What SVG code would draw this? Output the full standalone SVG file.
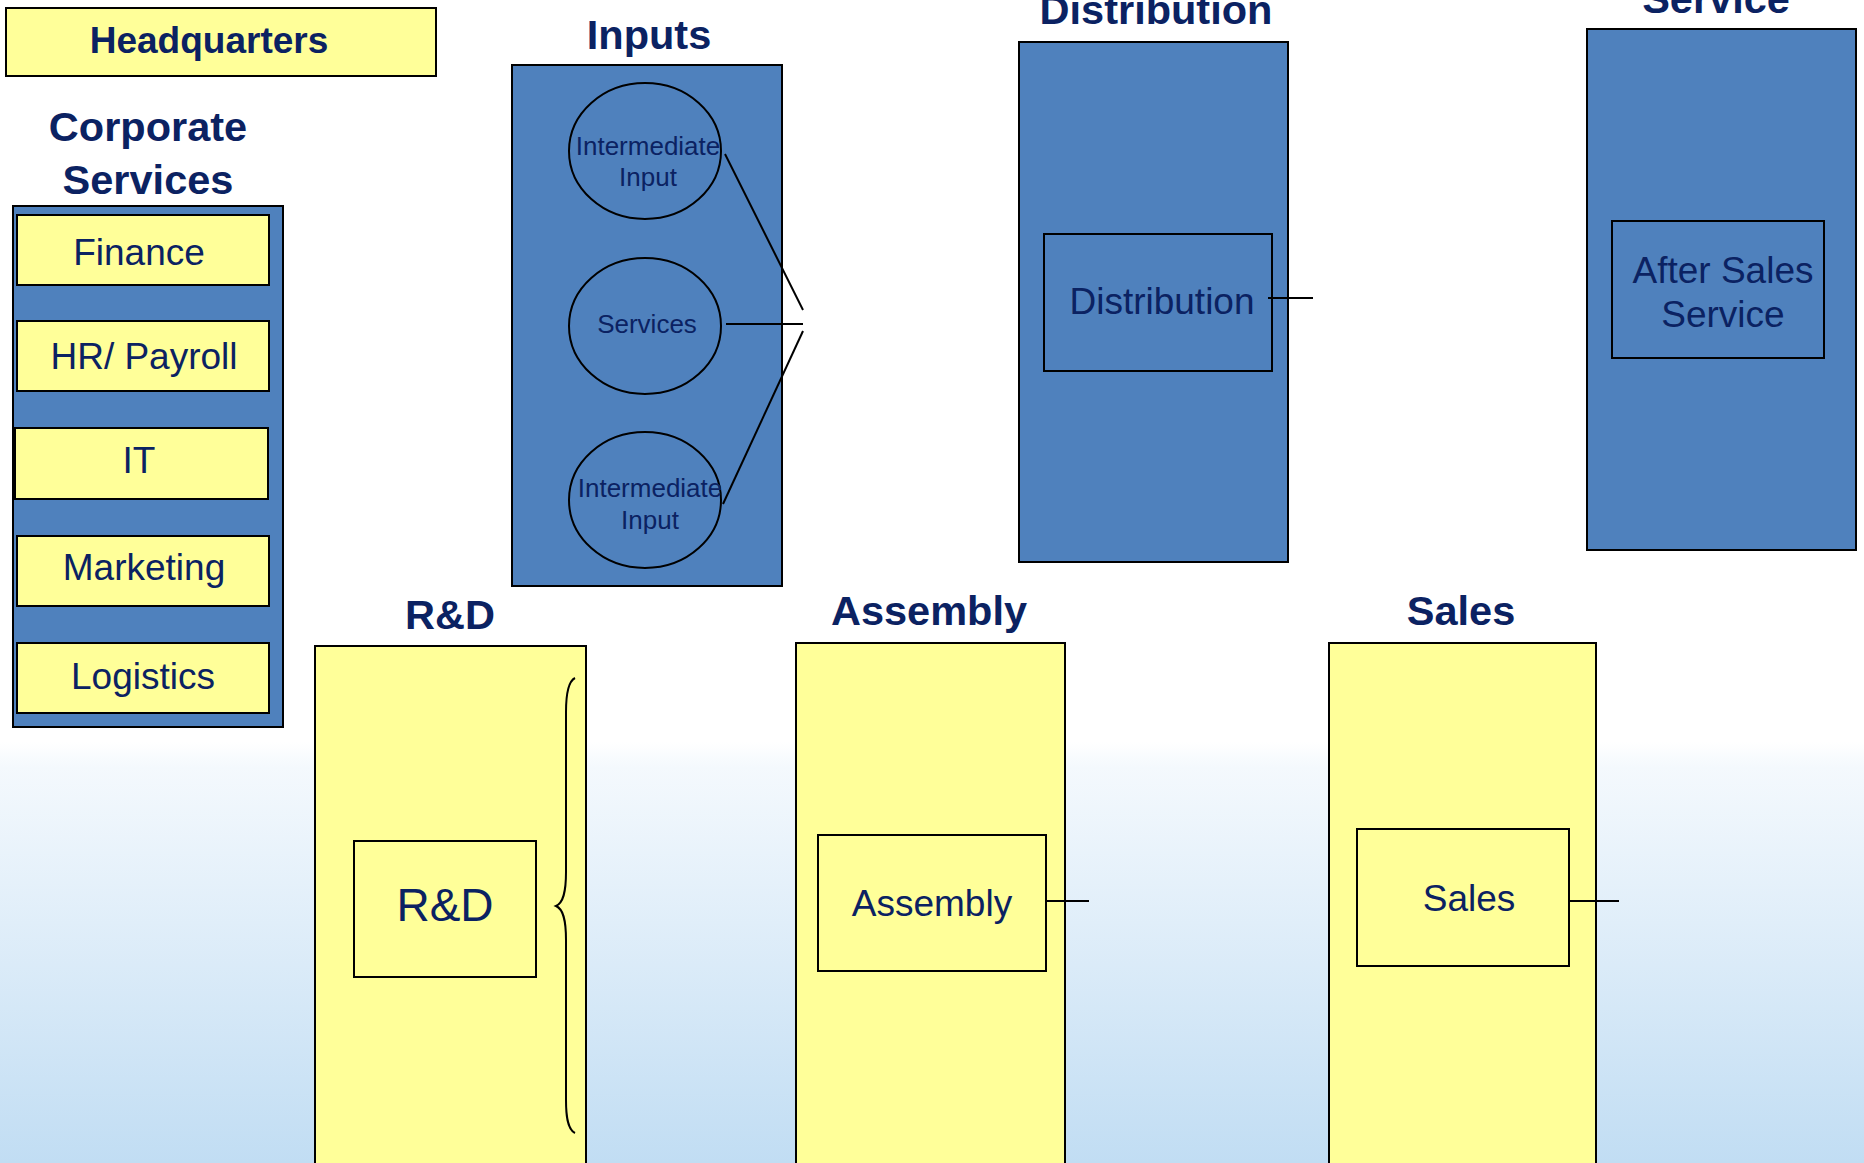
<svg xmlns="http://www.w3.org/2000/svg" width="1864" height="1163" viewBox="0 0 1864 1163">
  <defs>
    <linearGradient id="bgFade" x1="0" y1="0" x2="0" y2="1">
      <stop offset="0" stop-color="#ffffff"/>
      <stop offset="0.06" stop-color="#f4f9fd"/>
      <stop offset="1" stop-color="#c1ddf3"/>
    </linearGradient>
    <style>
      .blue { fill: #4f81bd; stroke: #000; stroke-width: 2; }
      .yellow { fill: #ffff99; stroke: #000; stroke-width: 2; }
      .inner { fill: none; stroke: #000; stroke-width: 2; }
      .title { font-family: "Liberation Sans", Arial, sans-serif; font-weight: bold; font-size: 41.5px; fill: #0b2262; text-anchor: middle; }
      .label { font-family: "Liberation Sans", Arial, sans-serif; font-size: 37px; fill: #0b2262; text-anchor: middle; }
      .small { font-family: "Liberation Sans", Arial, sans-serif; font-size: 26px; fill: #0b2262; text-anchor: middle; }
      .wire { fill: none; stroke: #000; stroke-width: 2; }
    </style>
  </defs>

  <!-- page background -->
  <rect x="0" y="0" width="1864" height="1163" fill="#ffffff"/>
  <rect x="0" y="742" width="1864" height="421" fill="url(#bgFade)"/>

  <!-- Headquarters banner -->
  <g id="headquarters">
    <rect class="yellow" x="6" y="8" width="430" height="68"/>
    <text class="title" x="209" y="53" style="font-size:37px">Headquarters</text>
  </g>

  <!-- Corporate services column -->
  <g id="corporate-services">
    <text class="title" x="148" y="141">Corporate</text>
    <text class="title" x="148" y="194">Services</text>
    <rect class="blue" x="13" y="206" width="270" height="521"/>
  </g>
  <g id="finance">
    <rect class="yellow" x="17" y="215" width="252" height="70"/>
    <text class="label" x="139" y="265">Finance</text>
  </g>
  <g id="hr-payroll">
    <rect class="yellow" x="17" y="321" width="252" height="70"/>
    <text class="label" x="144" y="369">HR/ Payroll</text>
  </g>
  <g id="it">
    <rect class="yellow" x="15" y="428" width="253" height="71"/>
    <text class="label" x="139" y="473">IT</text>
  </g>
  <g id="marketing">
    <rect class="yellow" x="17" y="536" width="252" height="70"/>
    <text class="label" x="144" y="580">Marketing</text>
  </g>
  <g id="logistics">
    <rect class="yellow" x="17" y="643" width="252" height="70"/>
    <text class="label" x="143" y="689">Logistics</text>
  </g>

  <!-- Inputs column -->
  <g id="inputs">
    <text class="title" x="649" y="49">Inputs</text>
    <rect class="blue" x="512" y="65" width="270" height="521"/>
  </g>
  <g id="intermediate-input-top">
    <ellipse class="inner" cx="645" cy="151" rx="76" ry="68"/>
    <text class="small" x="648" y="155">Intermediate</text>
    <text class="small" x="648" y="186">Input</text>
  </g>
  <g id="services">
    <ellipse class="inner" cx="645" cy="326" rx="76" ry="68"/>
    <text class="small" x="647" y="333">Services</text>
  </g>
  <g id="intermediate-input-bottom">
    <ellipse class="inner" cx="645" cy="500" rx="76" ry="68"/>
    <text class="small" x="650" y="497">Intermediate</text>
    <text class="small" x="650" y="529">Input</text>
  </g>

  <!-- Distribution column -->
  <g id="distribution">
    <text class="title" x="1156" y="24">Distribution</text>
    <rect class="blue" x="1019" y="42" width="269" height="520"/>
  </g>
  <g id="distribution-unit">
    <rect class="inner" x="1044" y="234" width="228" height="137"/>
    <text class="label" x="1162" y="314">Distribution</text>
  </g>

  <!-- Service column -->
  <g id="service">
    <text class="title" x="1716" y="13">Service</text>
    <rect class="blue" x="1587" y="29" width="269" height="521"/>
  </g>
  <g id="after-sales-service">
    <rect class="inner" x="1612" y="221" width="212" height="137"/>
    <text class="label" x="1723" y="283">After Sales</text>
    <text class="label" x="1723" y="327">Service</text>
  </g>

  <!-- R&D column -->
  <g id="rnd">
    <text class="title" x="450" y="629">R&amp;D</text>
    <rect class="yellow" x="315" y="646" width="271" height="530"/>
  </g>
  <g id="rnd-unit">
    <rect class="inner" x="354" y="841" width="182" height="136"/>
    <text class="label" x="445" y="921" style="font-size:46px">R&amp;D</text>
  </g>

  <!-- Assembly column -->
  <g id="assembly">
    <text class="title" x="929" y="625">Assembly</text>
    <rect class="yellow" x="796" y="643" width="269" height="530"/>
  </g>
  <g id="assembly-unit">
    <rect class="inner" x="818" y="835" width="228" height="136"/>
    <text class="label" x="932" y="916">Assembly</text>
  </g>

  <!-- Sales column -->
  <g id="sales">
    <text class="title" x="1461" y="625">Sales</text>
    <rect class="yellow" x="1329" y="643" width="267" height="530"/>
  </g>
  <g id="sales-unit">
    <rect class="inner" x="1357" y="829" width="212" height="137"/>
    <text class="label" x="1469" y="911">Sales</text>
  </g>

  <!-- connectors -->
  <g id="connectors">
    <line class="wire" x1="725" y1="154" x2="803" y2="310"/>
    <line class="wire" x1="726" y1="324" x2="803" y2="324"/>
    <line class="wire" x1="723" y1="504" x2="803" y2="331"/>
    <line class="wire" x1="1268" y1="298" x2="1313" y2="298"/>
    <line class="wire" x1="1046" y1="901" x2="1089" y2="901"/>
    <line class="wire" x1="1569" y1="901" x2="1619" y2="901"/>
    <path class="wire" d="M575,678 C567,682 566,698 566,712 L566,872 C566,893 563,903 556,906 C563,909 566,919 566,940 L566,1100 C566,1114 567,1129 575,1133"/>
  </g>
</svg>
